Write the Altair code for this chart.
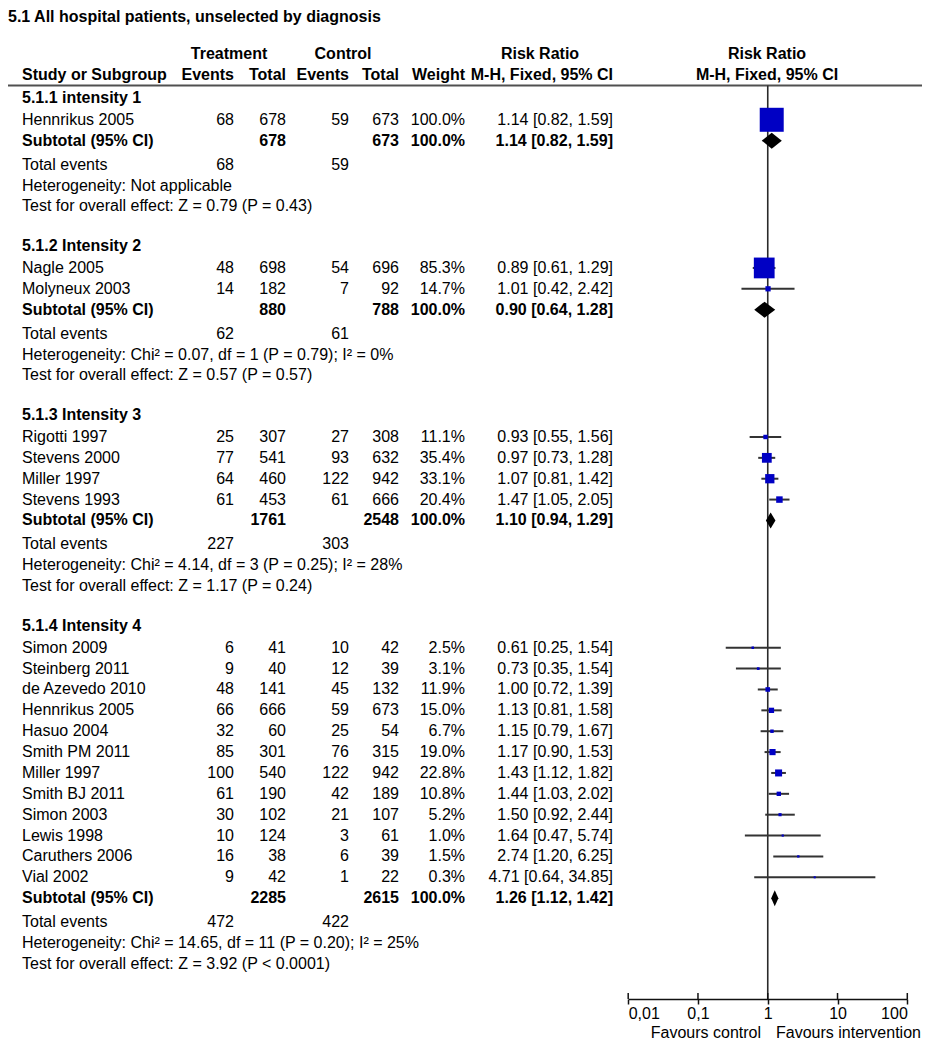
import altair as alt
import pandas as pd

# ---------------- data ----------------
TITLE = "5.1 All hospital patients, unselected by diagnosis"
GROUP_NAMES = ["5.1.1 intensity 1", "5.1.2 Intensity 2", "5.1.3 Intensity 3", "5.1.4 Intensity 4"]

STUDY = ["Hennrikus 2005",
         "Nagle 2005", "Molyneux 2003",
         "Rigotti 1997", "Stevens 2000", "Miller 1997", "Stevens 1993",
         "Simon 2009", "Steinberg 2011", "de Azevedo 2010", "Hennrikus 2005", "Hasuo 2004",
         "Smith PM 2011", "Miller 1997", "Smith BJ 2011", "Simon 2003", "Lewis 1998",
         "Caruthers 2006", "Vial 2002"]
GROUP = [0, 1, 1, 2, 2, 2, 2, 3, 3, 3, 3, 3, 3, 3, 3, 3, 3, 3, 3]
EV_T = [68, 48, 14, 25, 77, 64, 61, 6, 9, 48, 66, 32, 85, 100, 61, 30, 10, 16, 9]
TOT_T = [678, 698, 182, 307, 541, 460, 453, 41, 40, 141, 666, 60, 301, 540, 190, 102, 124, 38, 42]
EV_C = [59, 54, 7, 27, 93, 122, 61, 10, 12, 45, 59, 25, 76, 122, 42, 21, 3, 6, 1]
TOT_C = [673, 696, 92, 308, 632, 942, 666, 42, 39, 132, 673, 54, 315, 942, 189, 107, 61, 39, 22]
WEIGHT = [100.0, 85.3, 14.7, 11.1, 35.4, 33.1, 20.4, 2.5, 3.1, 11.9, 15.0, 6.7, 19.0, 22.8,
          10.8, 5.2, 1.0, 1.5, 0.3]
RR = [1.14, 0.89, 1.01, 0.93, 0.97, 1.07, 1.47, 0.61, 0.73, 1.00, 1.13, 1.15, 1.17, 1.43,
      1.44, 1.50, 1.64, 2.74, 4.71]
LO = [0.82, 0.61, 0.42, 0.55, 0.73, 0.81, 1.05, 0.25, 0.35, 0.72, 0.81, 0.79, 0.90, 1.12,
      1.03, 0.92, 0.47, 1.20, 0.64]
HI = [1.59, 1.29, 2.42, 1.56, 1.28, 1.42, 2.05, 1.54, 1.54, 1.39, 1.58, 1.67, 1.53, 1.82,
      2.02, 2.44, 5.74, 6.25, 34.85]

SUB_TOT_T = [678, 880, 1761, 2285]
SUB_TOT_C = [673, 788, 2548, 2615]
SUB_RR = [1.14, 0.90, 1.10, 1.26]
SUB_LO = [0.82, 0.64, 0.94, 1.12]
SUB_HI = [1.59, 1.28, 1.29, 1.42]
TOTAL_EV_T = [68, 62, 227, 472]
TOTAL_EV_C = [59, 61, 303, 422]
HETEROGENEITY = ["Not applicable",
                 "Chi² = 0.07, df = 1 (P = 0.79); I² = 0%",
                 "Chi² = 4.14, df = 3 (P = 0.25); I² = 28%",
                 "Chi² = 14.65, df = 11 (P = 0.20); I² = 25%"]
OVERALL = ["Z = 0.79 (P = 0.43)", "Z = 0.57 (P = 0.57)",
           "Z = 1.17 (P = 0.24)", "Z = 3.92 (P < 0.0001)"]
TICKS = [0.01, 0.1, 1, 10, 100]
TICK_LABELS = ["0,01", "0,1", "1", "10", "100"]
FAVOURS = ["Favours control", "Favours intervention"]

# ---------------- layout ----------------
W = 914
H_PLOT = 991
TOTAL_H = 1034
UNIT = 20.868                 # px per table row
S_TOP = -89.87 / UNIT         # row coordinate at the very top
S_AXIS = S_TOP + H_PLOT / UNIT
S_TITLE = S_TOP + 1 / UNIT
S_H1 = -2.083
S_H2 = -1.086
S_HLINE = -0.593
S_FAV = S_AXIS + 34 / UNIT
FONT = "Liberation Sans"
FS = 16
BLUE = "#0000c4"

COLS = {
    "title": (0, "left", "top"), "name": (14, "left", "middle"),
    "evt": (226, "right", "middle"), "tott": (278, "right", "middle"),
    "evc": (341, "right", "middle"), "totc": (391, "right", "middle"),
    "wt": (457, "right", "middle"), "ci": (605, "right", "middle"),
    "hdr_t": (221, "center", "middle"), "hdr_c": (335, "center", "middle"),
    "hdr_rr": (532, "center", "middle"), "hdr_plot": (759, "center", "middle"),
    "fav_c": (753, "right", "middle"), "fav_i": (768, "left", "middle"),
}

# row slots
study_s, sub_s = [], []
rows = []  # text rows


def add(s, col, text, bold=False):
    rows.append({"s": s, "col": col, "text": str(text), "bold": bold})


add(S_TITLE, "title", TITLE, True)
for col, t in [("hdr_t", "Treatment"), ("hdr_c", "Control"), ("hdr_rr", "Risk Ratio"),
               ("hdr_plot", "Risk Ratio")]:
    add(S_H1, col, t, True)
for col, t in [("name", "Study or Subgroup"), ("evt", "Events"), ("tott", "Total"),
               ("evc", "Events"), ("totc", "Total"), ("wt", "Weight"),
               ("ci", "M-H, Fixed, 95% CI"), ("hdr_plot", "M-H, Fixed, 95% CI")]:
    add(S_H2, col, t, True)

cur = 0.0
for g, gname in enumerate(GROUP_NAMES):
    add(cur, "name", gname, True)
    cur += 1.05
    for i in range(len(STUDY)):
        if GROUP[i] != g:
            continue
        study_s.append(cur)
        add(cur, "name", STUDY[i])
        add(cur, "evt", EV_T[i])
        add(cur, "tott", TOT_T[i])
        add(cur, "evc", EV_C[i])
        add(cur, "totc", TOT_C[i])
        add(cur, "wt", f"{WEIGHT[i]:.1f}%")
        add(cur, "ci", f"{RR[i]:.2f} [{LO[i]:.2f}, {HI[i]:.2f}]")
        cur += 1.0
    sub_s.append(cur)
    add(cur, "name", "Subtotal (95% CI)", True)
    add(cur, "tott", SUB_TOT_T[g], True)
    add(cur, "totc", SUB_TOT_C[g], True)
    add(cur, "wt", "100.0%", True)
    add(cur, "ci", f"{SUB_RR[g]:.2f} [{SUB_LO[g]:.2f}, {SUB_HI[g]:.2f}]", True)
    cur += 1.15
    add(cur, "name", "Total events")
    add(cur, "evt", TOTAL_EV_T[g])
    add(cur, "evc", TOTAL_EV_C[g])
    cur += 1.0
    add(cur, "name", "Heterogeneity: " + HETEROGENEITY[g])
    cur += 1.0
    add(cur, "name", "Test for overall effect: " + OVERALL[g])
    cur += 1.9

add(S_FAV, "fav_c", FAVOURS[0])
add(S_FAV, "fav_i", FAVOURS[1])

text_df = pd.DataFrame(rows)

studies = pd.DataFrame({"s": study_s, "rr": RR, "lo": LO, "hi": HI, "weight": WEIGHT})

DIAM_H = 0.383
diam_rows = []
for g in range(len(SUB_RR)):
    s = sub_s[g]
    diam_rows += [
        {"g": g, "rr": SUB_LO[g], "y1": s, "y2": s},
        {"g": g, "rr": SUB_RR[g], "y1": s - DIAM_H, "y2": s + DIAM_H},
        {"g": g, "rr": SUB_HI[g], "y1": s, "y2": s},
    ]
diamonds = pd.DataFrame(diam_rows)

# ---------------- scales & axis ----------------
xscale = alt.Scale(type="log", domain=[0.01, 100], range=[620.2, 899.3], nice=False)
yscale = alt.Scale(domain=[S_TOP, S_AXIS], range=[0, H_PLOT], nice=False, zero=False)

label_expr = ""
for v, lab in zip(TICKS, TICK_LABELS):
    label_expr += f"datum.value == {v} ? '{lab}' : "
label_expr += "''"

xaxis = alt.Axis(values=TICKS, title=None, grid=False, orient="bottom",
                 domainColor="#111", domainWidth=1.5, tickColor="#111", tickWidth=1.5,
                 tickSize=5, labelFont=FONT, labelFontSize=FS, labelColor="#000",
                 labelFlush=True, labelPadding=1, labelOverlap=False,
                 labelExpr=label_expr)


def X(field):
    return alt.X(field, scale=xscale, axis=xaxis)


def Y(field):
    return alt.Y(field, scale=yscale, axis=None)


hline = alt.Chart(pd.DataFrame({"s": [S_HLINE]})).mark_rule(
    color="#505050", strokeWidth=2).encode(
    x=alt.value(0), x2=alt.value(W), y=Y("s:Q"))

vline = alt.Chart(pd.DataFrame({"rr": [1.0], "s0": [S_HLINE], "s1": [S_AXIS]})).mark_rule(
    color="#2a2a2a", strokeWidth=1.6).encode(x=X("rr:Q"), y=Y("s0:Q"), y2="s1:Q")

ci = alt.Chart(studies).mark_rule(color="#333333", strokeWidth=2).encode(
    x=X("lo:Q"), x2="hi:Q", y=Y("s:Q"))

squares = alt.Chart(studies).transform_calculate(
    side="2 + 0.22 * datum.weight").mark_square(
    color=BLUE, opacity=1, filled=True).encode(
    x=X("rr:Q"), y=Y("s:Q"),
    size=alt.Size("side:Q", scale=alt.Scale(type="pow", exponent=2, domain=[0, 24],
                                              range=[0, 576]), legend=None))

diam = alt.Chart(diamonds).mark_area(color="black", opacity=1, orient="vertical").encode(
    x=X("rr:Q"), y=Y("y1:Q"), y2="y2:Q", detail="g:N")

tick_df = pd.DataFrame({"t": TICKS, "ya": [S_AXIS - 6 / UNIT] * len(TICKS),
                        "yb": [S_AXIS] * len(TICKS)})
ticks_up = alt.Chart(tick_df).mark_rule(color="#111", strokeWidth=1.5).encode(
    x=X("t:Q"), y=Y("ya:Q"), y2="yb:Q")

text_layers = []
for (col, bold), sub in text_df.groupby(["col", "bold"]):
    xpos, align, base = COLS[col]
    text_layers.append(
        alt.Chart(sub).mark_text(
            align=align, baseline=base, font=FONT, fontSize=FS,
            fontWeight="bold" if bold else "normal", color="#000").encode(
            x=alt.value(xpos), y=Y("s:Q"), text="text:N"))

chart = alt.layer(hline, vline, ci, squares, diam, ticks_up, *text_layers).properties(
    width=W, height=H_PLOT,
    padding={"left": 0, "right": 0, "top": 0, "bottom": TOTAL_H - H_PLOT},
    autosize=alt.AutoSizeParams(type="none"),
).configure_view(stroke=None)

chart.save("out.html", embed_options={"renderer": "svg", "actions": False})
